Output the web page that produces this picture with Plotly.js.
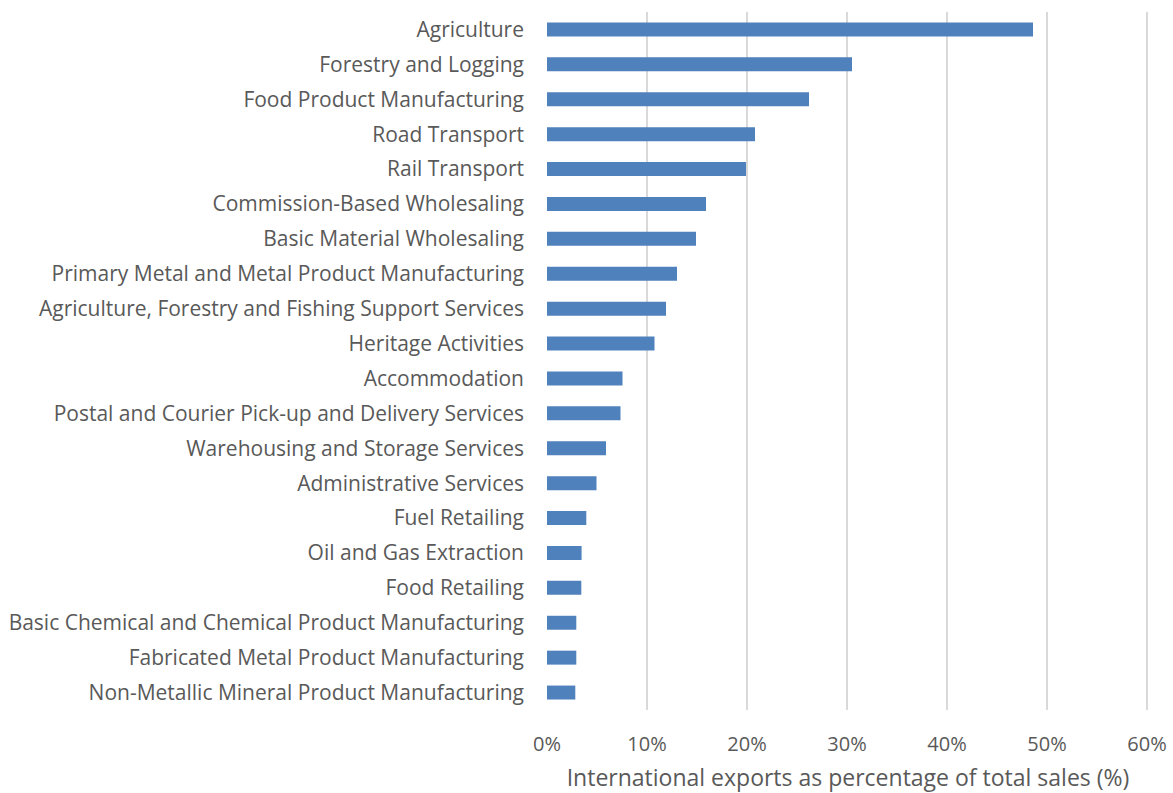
<!DOCTYPE html>
<html>
<head>
<meta charset="utf-8">
<script src="https://cdn.plot.ly/plotly-3.0.1.min.js"></script>
<style>html,body{margin:0;padding:0;background:#fff;}#chart{width:1173px;height:793px;}</style>
</head>
<body>
<div id="chart"></div>
<script>
const categories = [
  "Agriculture",
  "Forestry and Logging",
  "Food Product Manufacturing",
  "Road Transport",
  "Rail Transport",
  "Commission-Based Wholesaling",
  "Basic Material Wholesaling",
  "Primary Metal and Metal Product Manufacturing",
  "Agriculture, Forestry and Fishing Support Services",
  "Heritage Activities",
  "Accommodation",
  "Postal and Courier Pick-up and Delivery Services",
  "Warehousing and Storage Services",
  "Administrative Services",
  "Fuel Retailing",
  "Oil and Gas Extraction",
  "Food Retailing",
  "Basic Chemical and Chemical Product Manufacturing",
  "Fabricated Metal Product Manufacturing",
  "Non-Metallic Mineral Product Manufacturing"
];
const values = [0.486, 0.305, 0.262, 0.208, 0.199, 0.159, 0.149, 0.130, 0.119, 0.1075, 0.0755, 0.0735, 0.059, 0.0495, 0.0393, 0.0346, 0.0343, 0.0293, 0.0293, 0.0283];
const tickVals = [0, 0.1, 0.2, 0.3, 0.4, 0.5, 0.6];
const tickText = ["0%", "10%", "20%", "30%", "40%", "50%", "60%"];
const xTitle = "International exports as percentage of total sales (%)";

const yFont = {family: "Open Sans, sans-serif", size: 21, color: "#595959"};
const xFont = {family: "Open Sans, sans-serif", size: 20, color: "#595959"};

Plotly.newPlot("chart", [{
  type: "bar",
  orientation: "h",
  y: categories,
  x: values,
  marker: {color: "#4f81bd", line: {width: 0}},
  hoverinfo: "skip"
}], {
  width: 1173, height: 793,
  margin: {l: 547, r: 24, t: 12, b: 83},
  paper_bgcolor: "#fff", plot_bgcolor: "#fff",
  bargap: 0.6,
  showlegend: false,
  font: xFont,
  xaxis: {
    range: [0, 0.602],
    tickvals: tickVals, ticktext: tickText,
    showgrid: true, gridcolor: "#d9d9d9", gridwidth: 2,
    zeroline: false, showline: false,
    ticks: "", ticklabelstandoff: 20,
    tickfont: xFont,
    title: {text: xTitle, font: {family: "Open Sans, sans-serif", size: 23, color: "#595959"}, standoff: 15}
  },
  yaxis: {
    autorange: "reversed",
    type: "category",
    showgrid: false, zeroline: false, showline: false,
    ticks: "", ticklabelstandoff: 22,
    tickfont: yFont,
    automargin: false
  }
}, {displayModeBar: false, staticPlot: true});
</script>
</body>
</html>
